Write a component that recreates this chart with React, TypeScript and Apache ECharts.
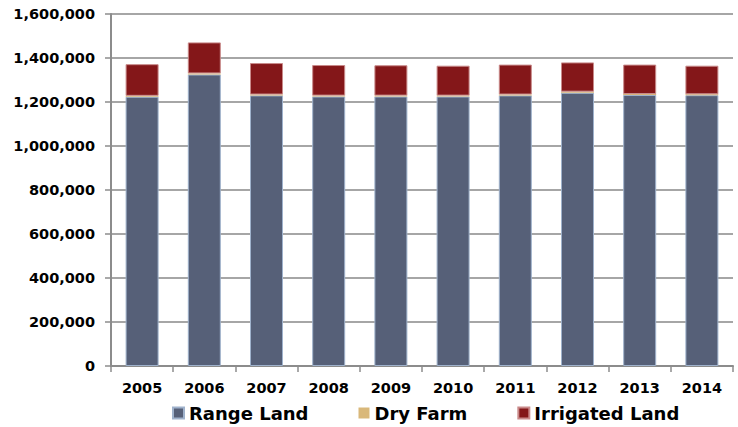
import React, { useEffect, useRef } from "react";
import * as echarts from "echarts";

const years = ["2005", "2006", "2007", "2008", "2009", "2010", "2011", "2012", "2013", "2014"];
const rangeLand = [1224000, 1325000, 1230000, 1225000, 1225000, 1225000, 1230000, 1242000, 1232000, 1231000];
const dryFarm = [4000, 5000, 4000, 4000, 4000, 4000, 4000, 5000, 4000, 4000];
const irrigatedLand = [144000, 141000, 143000, 139000, 138000, 136000, 136000, 133000, 134000, 130000];

const FONT = "DejaVu Sans";

export default function App() {
  const ref = useRef<HTMLDivElement>(null);
  useEffect(() => {
    if (!ref.current) return;
    const chart = echarts.init(ref.current, undefined, { renderer: "svg" });
    chart.setOption({
      animation: false,
      backgroundColor: "#ffffff",
      grid: { left: 111, right: 5, top: 14, bottom: 61 },
      legend: {
        left: 172,
        top: 403,
        padding: 0,
        icon: "rect",
        itemWidth: 11,
        itemHeight: 11,
        itemGap: 50,
        textStyle: { fontFamily: FONT, fontWeight: "bold", fontSize: 18, lineHeight: 20, color: "#000" },
        data: ["Range Land", "Dry Farm", "Irrigated Land"],
      },
      xAxis: {
        type: "category",
        data: years,
        boundaryGap: true,
        axisLine: { lineStyle: { color: "#8c8c8c", width: 2 } },
        axisTick: { show: true, length: 6, lineStyle: { color: "#8c8c8c", width: 1.5 } },
        axisLabel: { fontFamily: FONT, fontWeight: "bold", fontSize: 14.5, color: "#000", margin: 14 },
      },
      yAxis: {
        type: "value",
        min: 0,
        max: 1600000,
        interval: 200000,
        axisLine: { show: true, lineStyle: { color: "#8c8c8c", width: 2 } },
        axisTick: { show: true, length: 6, lineStyle: { color: "#8c8c8c", width: 1.5 } },
        splitLine: { lineStyle: { color: "#a6a6a6", width: 2 } },
        axisLabel: {
          fontFamily: FONT,
          fontWeight: "bold",
          fontSize: 14.5,
          color: "#000",
          margin: 16,
          formatter: (v: number) => v.toLocaleString("en-US"),
        },
      },
      series: [
        {
          name: "Range Land",
          type: "bar",
          stack: "total",
          barWidth: 33,
          data: rangeLand,
          itemStyle: { color: "#566078", borderColor: "#9fb2cc", borderWidth: 1 },
        },
        {
          name: "Dry Farm",
          type: "bar",
          stack: "total",
          barWidth: 33,
          data: dryFarm,
          itemStyle: { color: "#d9b87a" },
        },
        {
          name: "Irrigated Land",
          type: "bar",
          stack: "total",
          barWidth: 33,
          data: irrigatedLand,
          itemStyle: { color: "#841719", borderColor: "#c98a8a", borderWidth: 1 },
        },
      ],
    });
    return () => chart.dispose();
  }, []);
  return <div ref={ref} style={{ width: 738, height: 427, position: "absolute", left: 0, top: 0 }} />;
}
